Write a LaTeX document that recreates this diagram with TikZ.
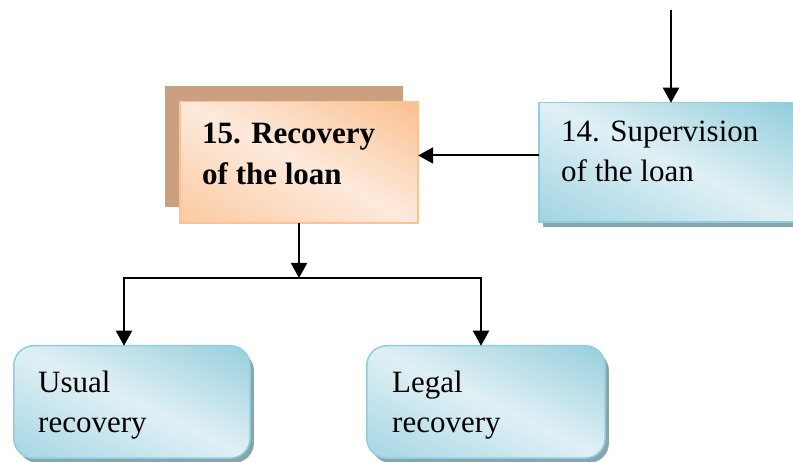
\documentclass[tikz,border=0pt]{standalone}
\usepackage{fontspec}
\setmainfont{Liberation Serif}
\usetikzlibrary{arrows.meta,shadows}
\definecolor{bdark}{RGB}{142,203,218}
\definecolor{bmid}{RGB}{158,211,225}
\definecolor{blight}{RGB}{224,240,245}
\definecolor{bborder}{RGB}{146,205,220}
\definecolor{bshadow}{RGB}{135,165,175}
\definecolor{odark}{RGB}{250,190,140}
\definecolor{omid}{RGB}{251,200,158}
\definecolor{olight}{RGB}{253,234,220}
\definecolor{oborder}{RGB}{250,196,150}
\definecolor{oshadow}{RGB}{202,160,128}
\pgfdeclarehorizontalshading{bluegrad}{100bp}{color(0bp)=(bmid); color(25bp)=(bmid); color(50bp)=(blight); color(75bp)=(bdark); color(100bp)=(bdark)}
\pgfdeclarehorizontalshading{orangegrad}{100bp}{color(0bp)=(omid); color(25bp)=(omid); color(50bp)=(olight); color(75bp)=(odark); color(100bp)=(odark)}
\newcommand{\gradfill}[5]{%
  \begin{scope}
    \clip[rounded corners=#4] (#1.north west) rectangle (#1.south east);
    \shade[shading=#2, transform canvas={shift={(#1.center)}, rotate=#3}] (-112pt,-170pt) rectangle (112pt,170pt);
  \end{scope}
  \draw[#5, line width=1.5pt, rounded corners=#4] (#1.north west) rectangle (#1.south east);
}
\tikzset{
  bluebox/.style={fill=blight, draw=none,
    general shadow={shadow xshift=4pt, shadow yshift=-5pt, fill=bshadow},
    anchor=north west, inner sep=0pt},
  orangebox/.style={fill=olight, draw=none,
    general shadow={shadow xshift=-15pt, shadow yshift=16pt, fill=oshadow},
    anchor=north west, inner sep=0pt},
  lbl/.style={anchor=base west, inner sep=0pt, font=\fontsize{31}{41}\selectfont},
  blbl/.style={lbl, font=\fontsize{31}{41}\selectfont\bfseries},
  arr/.style={line width=2pt, -{Triangle[length=15pt,width=16pt]}},
  arrb/.style={line width=2pt, {Triangle[length=15pt,width=16pt]}-{Triangle[length=15pt,width=16pt]}}
}
\begin{document}
\begin{tikzpicture}[x=1pt,y=-1pt]
\useasboundingbox (0,0) rectangle (793,462);
\clip (0,0) rectangle (793,462);
\fill[white] (0,0) rectangle (793,462);
% boxes
\node[orangebox, minimum width=238pt, minimum height=121pt] (r15) at (179.75,101.75) {};
\gradfill{r15}{orangegrad}{63}{0pt}{oborder}
\node[bluebox, minimum width=262pt, minimum height=119pt] (sup) at (538.75,102.75) {};
\gradfill{sup}{bluegrad}{65}{0pt}{bborder}
\node[bluebox, rounded corners=20pt, minimum width=236pt, minimum height=112pt] (usual) at (13.75,345.75) {};
\gradfill{usual}{bluegrad}{65}{20pt}{bborder}
\node[bluebox, rounded corners=20pt, minimum width=238pt, minimum height=112pt] (legal) at (366.75,345.75) {};
\gradfill{legal}{bluegrad}{65}{20pt}{bborder}
% texts
\node[blbl] (t15a) at (202,144) {15. Recovery};
\node[blbl] (t15b) at (202,185) {of the loan};
\node[lbl] (t14a) at (561,142) {14. Supervision};
\node[lbl] (t14b) at (561,182) {of the loan};
\node[lbl] (tua) at (38,392) {Usual};
\node[lbl] (tub) at (38,432) {recovery};
\node[lbl] (tla) at (392,392) {Legal};
\node[lbl] (tlb) at (392,432) {recovery};
% connectors
\coordinate (top) at (671,10);
\draw[arr] (top) -- (top |- sup.north);
\draw[arr] ([yshift=7pt]sup.west) -- ([yshift=7pt]sup.west -| r15.east);
\coordinate (split) at (299,278);
\draw[arr] (split |- r15.south) -- (split);
\coordinate (jl) at (124,278);
\coordinate (jr) at (481,278);
\draw[arrb] (jl |- usual.north) -- (jl) -- (jr) -- (jr |- legal.north);
\end{tikzpicture}
\end{document}
